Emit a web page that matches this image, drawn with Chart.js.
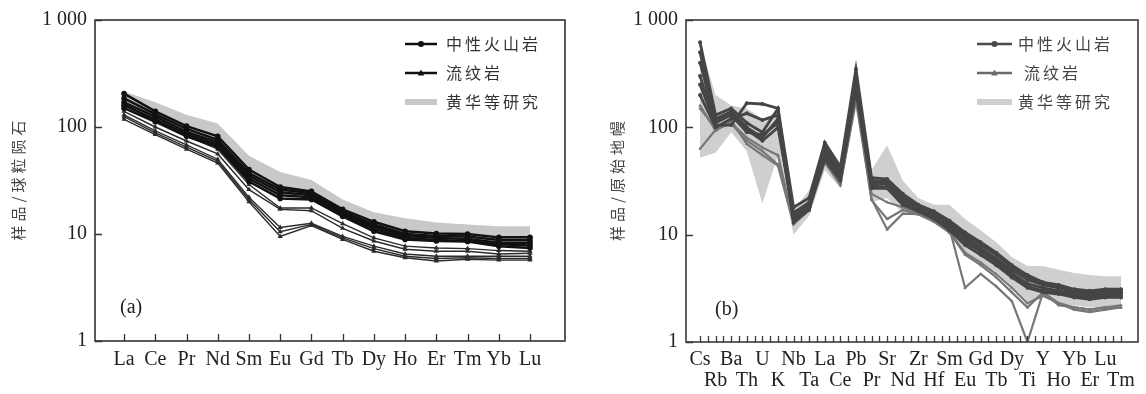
<!DOCTYPE html>
<html>
<head>
<meta charset="utf-8">
<script src="https://cdn.jsdelivr.net/npm/chart.js@4"></script>
<style>
html, body { margin: 0; padding: 0; background: #fff; }
#wrap { position: relative; width: 1146px; height: 394px; }
canvas { position: absolute; top: 0; }
#chartA { left: 0; }
#chartB { left: 590px; }
</style>
</head>
<body>
<div id="wrap">
  <canvas id="chartA" width="590" height="394"></canvas>
  <canvas id="chartB" width="556" height="394"></canvas>
</div>
<script>
// ---- data: (a) REE, chondrite normalised ----
const reeLabels = ['La', 'Ce', 'Pr', 'Nd', 'Sm', 'Eu', 'Gd', 'Tb', 'Dy', 'Ho', 'Er', 'Tm', 'Yb', 'Lu'];
const reeIntermediate = [
    [205, 140, 102, 82, 40, 27.5, 25, 17, 13, 10.6, 10.1, 10, 9.3, 9.3],
    [185, 132, 96, 76, 37, 26, 24, 16.2, 12.3, 10, 9.6, 9.5, 8.8, 8.8],
    [170, 125, 90, 72, 35, 24.5, 23, 15.5, 11.8, 9.6, 9.2, 9, 8.3, 8.3],
    [160, 118, 86, 68, 33, 23, 22, 15, 11.2, 9.2, 8.8, 8.6, 8, 7.8],
    [150, 112, 82, 65, 31, 21.5, 21, 14.6, 10.6, 8.9, 8.6, 8.5, 7.7, 7.4]
];
const reeRhyolite = [
    [165, 112, 82, 62, 29, 17.5, 17.5, 12.5, 9.2, 7.7, 7.4, 7.3, 7, 6.9],
    [140, 100, 74, 56, 26, 17, 16.5, 11.3, 8.6, 7.2, 6.9, 6.9, 6.5, 6.6],
    [130, 92, 68, 50, 22, 11.5, 12.6, 9.5, 7.7, 6.5, 6.2, 6.2, 6.2, 6.2],
    [125, 88, 65, 48, 21, 10.5, 12.3, 9.2, 7.3, 6.2, 5.9, 6, 5.9, 5.9],
    [118, 85, 62, 46, 20, 9.5, 12, 8.9, 6.9, 6, 5.6, 5.8, 5.7, 5.7]
];
const reeRefUpper = [215, 170, 130, 108, 54, 38, 32, 21, 16, 14, 12.8, 12.3, 11.8, 11.8];
const reeRefLower = [150, 115, 85, 68, 33, 23, 22, 15, 11.5, 9.5, 9, 8.8, 8.2, 8.2];

// ---- data: (b) spider diagram, primitive mantle normalised ----
const spiderLabels = ['Cs', 'Rb', 'Ba', 'Th', 'U', 'K', 'Nb', 'Ta', 'La', 'Ce', 'Pb', 'Pr', 'Sr', 'Nd',
    'Zr', 'Hf', 'Sm', 'Eu', 'Gd', 'Tb', 'Dy', 'Ti', 'Y', 'Ho', 'Yb', 'Er', 'Lu', 'Tm'];
const spiderIntermediate = [
    [620, 130, 150, 110, 90, 150, 18, 22, 72, 43, 350, 34, 33, 24, 19, 16.5, 13.5, 10.5, 8.5, 6.8, 5.2, 4.2, 3.6, 3.4, 3.1, 3.0, 3.1, 3.1],
    [500, 120, 140, 100, 80, 120, 16, 20, 65, 40, 300, 32, 31, 23, 18.5, 16, 13, 10, 8, 6.5, 5, 4, 3.5, 3.3, 3.0, 2.9, 3.0, 3.0],
    [400, 115, 135, 95, 75, 100, 15, 19, 60, 38, 280, 30, 32, 22, 18, 15.5, 12.5, 9.5, 7.5, 6, 4.7, 3.8, 3.4, 3.2, 2.9, 2.8, 2.9, 2.9],
    [300, 110, 130, 90, 85, 110, 14, 18, 58, 36, 260, 29, 30, 21, 17.5, 15, 12, 9, 7.2, 5.7, 4.4, 3.5, 3.2, 3.0, 2.8, 2.7, 2.8, 2.8],
    [250, 105, 105, 168, 165, 150, 13, 17, 55, 34, 240, 28, 28, 20, 17, 14.5, 11.5, 8.5, 7, 5.5, 4.2, 3.3, 3.0, 2.9, 2.7, 2.6, 2.7, 2.7],
    [200, 100, 120, 135, 117, 130, 14, 18, 50, 32, 220, 27, 27, 19, 16.5, 14, 11, 8, 6.5, 5.2, 4, 3.2, 2.9, 2.8, 2.6, 2.5, 2.6, 2.6]
];
const spiderRhyolite = [
    [160, 93, 115, 70, 55, 44, 12.5, 17, 47, 30, 200, 21.5, 11.2, 15.7, 15.5, 13.5, 11.4, 3.2, 4.3, 3.3, 2.4, 1.0, 2.9, 2.2, 2.1, 2.0, 2.1, 2.1],
    [63, 95, 110, 80, 65, 55, 13, 18, 48, 29, 180, 21, 14, 17, 15.5, 13.2, 10.5, 6.5, 5.2, 4, 2.9, 2.1, 2.9, 2.3, 2.0, 1.9, 2.0, 2.1],
    [150, 98, 108, 75, 60, 45, 13.5, 17, 50, 30, 190, 24, 20, 18, 16, 13.5, 10.5, 6.8, 5.5, 4.3, 3.2, 2.3, 2.7, 2.3, 2.1, 2.0, 2.1, 2.2]
];
const spiderRefUpper = [600, 200, 160, 150, 120, 140, 17, 26, 75, 45, 300, 40, 68, 32, 22, 19, 19, 14, 11, 8.5, 6.2, 5.1, 5.1, 4.7, 4.4, 4.2, 4.1, 4.1];
const spiderRefLower = [52, 58, 90, 60, 19.5, 55, 10, 15, 40, 27, 150, 20, 22, 16, 15, 13, 10, 7, 5.5, 4.5, 3.3, 2.4, 2.6, 2.3, 2.2, 2.1, 2.1, 2.1];

const yTicks = [1, 10, 100, 1000];
const legendNames = ['中性火山岩', '流纹岩', '黄华等研究'];

const serif = '"Liberation Serif", "Times New Roman", serif';
const cjk = '"Noto Sans CJK SC", sans-serif';

function toXY(arr) {
    return arr.map((v, i) => ({ x: i, y: v }));
}

function spacedText(ctx, str, x, y, gap) {
    // draws CJK text with extra letter spacing
    for (const ch of str) {
        ctx.fillText(ch, x, y);
        x += ctx.measureText(ch).width + gap;
    }
    return x;
}

function spacedWidth(ctx, str, gap) {
    let w = 0;
    for (const ch of str) w += ctx.measureText(ch).width + gap;
    return w - gap;
}

function drawMarker(ctx, style, x, y, r) {
    ctx.beginPath();
    if (style === 'triangle') {
        ctx.moveTo(x, y - r * 1.2);
        ctx.lineTo(x + r * 1.1, y + r * 0.8);
        ctx.lineTo(x - r * 1.1, y + r * 0.8);
        ctx.closePath();
    } else {
        ctx.arc(x, y, r, 0, Math.PI * 2);
    }
    ctx.fill();
}

function decorPlugin(p) {
    return {
        id: 'decor',
        afterDraw(chart) {
            const { ctx, chartArea: a, scales: { x, y } } = chart;
            ctx.save();

            // inward tick marks
            ctx.strokeStyle = p.axisColor;
            ctx.lineWidth = 1.3;
            ctx.beginPath();
            p.xTickValues.forEach(v => {
                const px = Math.round(x.getPixelForValue(v)) + 0.5;
                ctx.moveTo(px, a.bottom);
                ctx.lineTo(px, a.bottom - p.tickLen);
            });
            yTicks.forEach(v => {
                const py = Math.round(y.getPixelForValue(v)) + 0.5;
                ctx.moveTo(a.left, py);
                ctx.lineTo(a.left + 7, py);
            });
            ctx.stroke();

            // frame
            ctx.lineWidth = 1.6;
            ctx.strokeRect(a.left, a.top, a.right - a.left, a.bottom - a.top);

            // panel label
            ctx.fillStyle = '#222';
            ctx.font = '20px ' + serif;
            ctx.textBaseline = 'middle';
            ctx.textAlign = 'left';
            ctx.fillText(p.panel, p.panelX, p.panelY);

            // y axis title, rotated
            ctx.font = '15px ' + cjk;
            ctx.fillStyle = p.titleColor;
            const tw = spacedWidth(ctx, p.yTitle, 4);
            ctx.save();
            ctx.translate(p.titleX, (a.top + a.bottom) / 2);
            ctx.rotate(-Math.PI / 2);
            spacedText(ctx, p.yTitle, -tw / 2, 0, 4);
            ctx.restore();

            // legend
            ctx.font = '16px ' + cjk;
            p.legend.forEach((item, i) => {
                const ly = p.legendY + i * 29;
                if (item.band) {
                    ctx.fillStyle = item.color;
                    ctx.fillRect(p.legendX0, ly - 3, p.legendX1 - p.legendX0, 6);
                } else {
                    ctx.strokeStyle = item.color;
                    ctx.lineWidth = item.width;
                    ctx.beginPath();
                    ctx.moveTo(p.legendX0, ly);
                    ctx.lineTo(p.legendX1, ly);
                    ctx.stroke();
                    ctx.fillStyle = item.color;
                    drawMarker(ctx, item.marker, (p.legendX0 + p.legendX1) / 2, ly, 3);
                }
                ctx.fillStyle = p.legendText;
                spacedText(ctx, legendNames[i], p.legendTextX + (item.dx || 0), ly, 3);
            });

            ctx.restore();
        }
    };
}

function lineSet(values, color, width, marker, radius) {
    return {
        data: toXY(values),
        borderColor: color,
        borderWidth: width,
        pointStyle: marker,
        pointRadius: radius,
        pointBackgroundColor: color,
        pointBorderColor: color,
        pointBorderWidth: 0,
        fill: false,
        tension: 0,
        order: 0
    };
}

function bandSets(upper, lower, color) {
    return [
        { data: toXY(upper), fill: '+1', backgroundColor: color, borderWidth: 0, pointRadius: 0, order: 10 },
        { data: toXY(lower), fill: false, borderWidth: 0, pointRadius: 0, order: 11 }
    ];
}

function baseOptions(s) {
    return {
        responsive: false,
        animation: false,
        events: [],
        layout: { padding: { left: 0, top: 16, right: s.padRight, bottom: 0 } },
        plugins: {
            legend: { display: false },
            tooltip: { enabled: false },
            filler: { drawTime: 'beforeDatasetsDraw' }
        },
        scales: {
            x: {
                type: 'linear',
                min: s.xMin,
                max: s.xMax,
                afterBuildTicks: scale => {
                    scale.ticks = s.labels.map((_, i) => ({ value: i }));
                },
                afterFit: scale => { scale.height = s.xHeight; },
                ticks: {
                    callback: s.xLabel,
                    autoSkip: false,
                    maxRotation: 0,
                    minRotation: 0,
                    padding: s.xPad,
                    color: '#222',
                    font: { family: serif, size: 20, lineHeight: s.lineHeight }
                },
                grid: { display: false, drawTicks: false },
                border: { display: false }
            },
            y: {
                type: 'logarithmic',
                min: 1,
                max: 1000,
                afterBuildTicks: scale => {
                    scale.ticks = yTicks.map(v => ({ value: v }));
                },
                afterFit: scale => { scale.width = s.yWidth; },
                ticks: {
                    callback: v => (v === 1000 ? '1 000' : String(v)),
                    padding: 8,
                    color: '#222',
                    font: { family: serif, size: 20 }
                },
                grid: { display: false, drawTicks: false },
                border: { display: false }
            }
        }
    };
}

// ---- chart (a) ----
const dataA = bandSets(reeRefUpper, reeRefLower, '#c8c8c8')
    .concat(reeIntermediate.map(v => lineSet(v, '#111', 2.5, 'circle', 2.8)))
    .concat(reeRhyolite.map(v => lineSet(v, '#2b2b2b', 1.4, 'triangle', 3)));

new Chart(document.getElementById('chartA'), {
    type: 'line',
    data: { datasets: dataA },
    options: baseOptions({
        padRight: 25, xHeight: 53, yWidth: 95, xMin: -0.93, xMax: 14.12,
        labels: reeLabels, xPad: 7, lineHeight: 1.2,
        xLabel: v => reeLabels[v]
    }),
    plugins: [decorPlugin({
        axisColor: '#333',
        tickLen: 7,
        xTickValues: reeLabels.map((_, i) => i),
        panel: '(a)', panelX: 120, panelY: 308,
        yTitle: '样品/球粒陨石', titleX: 18, titleColor: '#444',
        legendX0: 405, legendX1: 437, legendTextX: 446, legendY: 44, legendText: '#333',
        legend: [
            { color: '#111', width: 2.5, marker: 'circle' },
            { color: '#111', width: 2.5, marker: 'triangle' },
            { color: '#c8c8c8', band: true }
        ]
    })]
});

// ---- chart (b) ----
const dataB = bandSets(spiderRefUpper, spiderRefLower, '#cfcfcf')
    .concat(spiderIntermediate.map(v => lineSet(v, '#454545', 2.8, 'circle', 2)))
    .concat(spiderRhyolite.map(v => lineSet(v, '#777', 2.2, 'triangle', 2)));

const halfSteps = [];
for (let i = 0; i <= 54; i++) halfSteps.push(i / 2);

new Chart(document.getElementById('chartB'), {
    type: 'line',
    data: { datasets: dataB },
    options: baseOptions({
        padRight: 8, xHeight: 52, yWidth: 96, xMin: -0.9, xMax: 28.09,
        labels: spiderLabels, xPad: 7, lineHeight: 1.05,
        xLabel: v => (v % 2 ? ['', spiderLabels[v]] : spiderLabels[v])
    }),
    plugins: [decorPlugin({
        axisColor: '#3a3a3a',
        tickLen: 6,
        xTickValues: halfSteps,
        panel: '(b)', panelX: 125, panelY: 310,
        yTitle: '样品/原始地幔', titleX: 27, titleColor: '#444',
        legendX0: 387, legendX1: 422, legendTextX: 428, legendY: 44, legendText: '#444',
        legend: [
            { color: '#4a4a4a', width: 2.5, marker: 'circle' },
            { color: '#6a6a6a', width: 2.5, marker: 'triangle', dx: 6 },
            { color: '#cfcfcf', band: true }
        ]
    })]
});
</script>
</body>
</html>
